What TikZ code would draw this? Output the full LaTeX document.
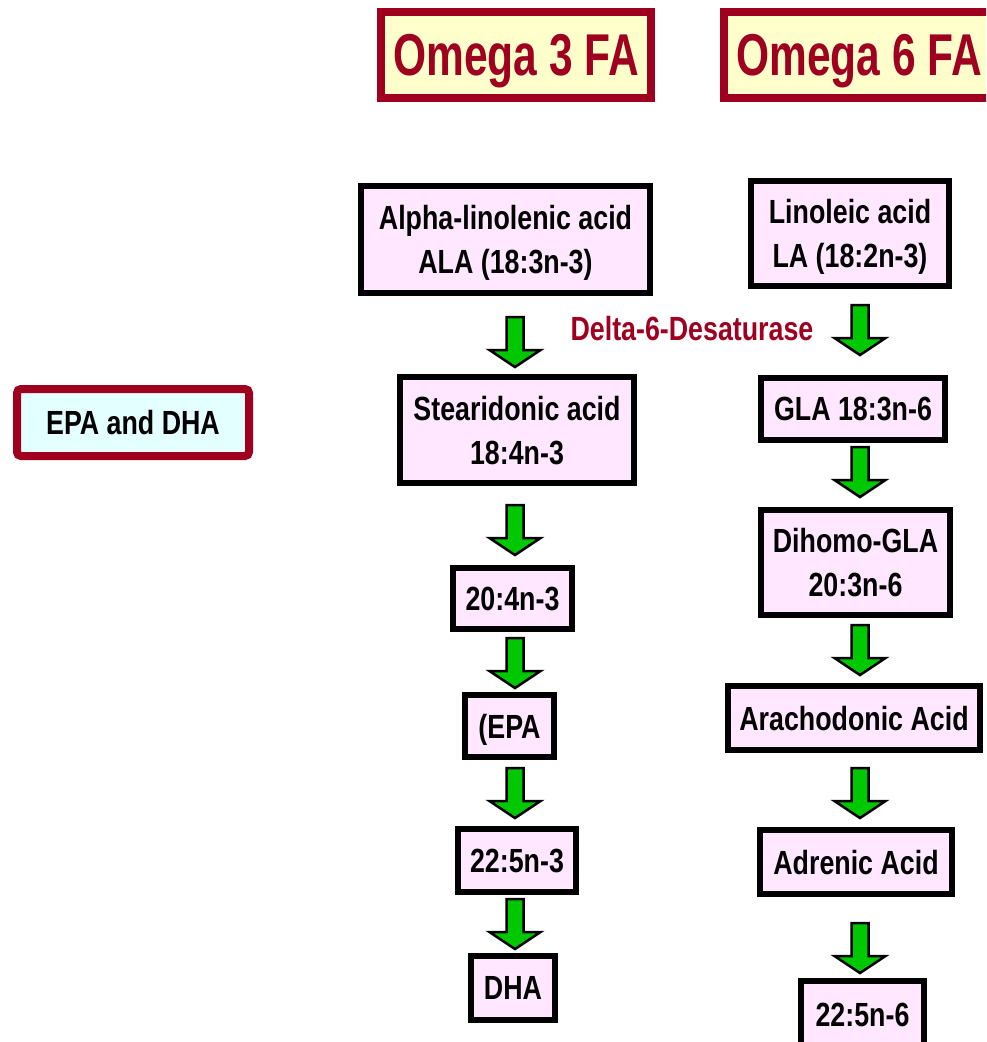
\documentclass[tikz,border=0pt]{standalone}
\usepackage{fontspec}
\setmainfont{Liberation Sans}[FakeStretch=0.8]
\newfontfamily\titlefont{Liberation Sans}[FakeStretch=0.72]
\usetikzlibrary{positioning}
\usepackage{xcolor}
\definecolor{omegaRed}{HTML}{A00020}
\definecolor{omegaCream}{HTML}{FFFFCC}
\definecolor{acidPink}{HTML}{FFE8FF}
\definecolor{epaCyan}{HTML}{E4FFFF}
\definecolor{arrowGreen}{HTML}{00C800}

\begin{document}
\begin{tikzpicture}[x=1pt,y=-1pt,
  title/.style={draw=omegaRed,line width=8pt,fill=omegaCream,text=omegaRed,inner sep=0pt,text depth=0pt,minimum width=270pt,minimum height=86pt,font=\titlefont\fontsize{59}{62}\selectfont\bfseries},
  acid/.style={draw=black,line width=6pt,fill=acidPink,inner sep=0pt,text depth=0pt,align=center,font=\fontsize{33.5}{44}\selectfont\bfseries},
  group/.style={draw=omegaRed,line width=8pt,rounded corners=4pt,fill=epaCyan,inner sep=0pt,text depth=0pt,minimum width=232pt,minimum height=67pt,font=\fontsize{33.5}{40}\selectfont\bfseries},
  enzyme/.style={text=omegaRed,inner sep=0pt,text depth=0pt,font=\fontsize{33.5}{40}\selectfont\bfseries},
  greenarrow/.pic={\draw[black,line width=2.5pt,fill=arrowGreen] (-8.5,0) -- (8.5,0) -- (8.5,33) -- (25.5,33) -- (0,50) -- (-25.5,33) -- (-8.5,33) -- cycle;}]

\clip (0,0) rectangle (986,1042);
\fill[white] (0,0) rectangle (986,1042);

\node[title] (omega3) at (516,55) {Omega 3 FA};
\node[title] (omega6) at (859,55) {Omega 6 FA};

\node[group] (epadha) at (133,422.5) {EPA and DHA};

\node[acid,minimum width=289pt,minimum height=107pt] (ala) at (505.5,239.5) {Alpha-linolenic acid\\ALA (18:3n-3)};
\node[acid,minimum width=234pt,minimum height=106pt] (sda) at (517,430) {Stearidonic acid\\18:4n-3};
\node[acid,minimum width=119pt,minimum height=61pt] (eta) at (512.5,598.5) {20:4n-3};
\node[acid,minimum width=89pt,minimum height=62pt] (epa) at (509.5,726) {(EPA};
\node[acid,minimum width=118pt,minimum height=63pt] (dpa) at (517,860.5) {22:5n-3};
\node[acid,minimum width=84pt,minimum height=64pt] (dha) at (513,988) {DHA};

\node[acid,minimum width=198pt,minimum height=105pt] (la) at (850,233.5) {Linoleic acid\\LA (18:2n-3)};
\node[acid,minimum width=184pt,minimum height=62pt] (gla) at (853,409) {GLA 18:3n-6};
\node[acid,minimum width=189pt,minimum height=105pt] (dgla) at (855.5,562.5) {Dihomo-GLA\\20:3n-6};
\node[acid,minimum width=252pt,minimum height=64pt] (ara) at (854,718) {Arachodonic Acid};
\node[acid,minimum width=192pt,minimum height=64pt] (adr) at (856,862) {Adrenic Acid};
\node[acid,minimum width=123pt,minimum height=68pt] (dpasix) at (862.5,1015) {22:5n-6};

\node[enzyme] (desat) at (692,328) {Delta-6-Desaturase};

\pic at (515,317) {greenarrow};
\pic at (515,505) {greenarrow};
\pic at (515,638) {greenarrow};
\pic at (515,768) {greenarrow};
\pic at (515,899) {greenarrow};

\pic at (860,305) {greenarrow};
\pic at (860,447) {greenarrow};
\pic at (860,625) {greenarrow};
\pic at (860,768) {greenarrow};
\pic at (860,923) {greenarrow};
\end{tikzpicture}
\end{document}
